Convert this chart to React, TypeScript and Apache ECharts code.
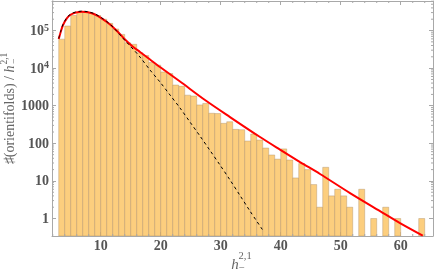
import React, { useEffect, useRef } from "react";
import * as echarts from "echarts";

// ---- data ----
const hValues = [3,4,5,6,7,8,9,10,11,12,13,14,15,16,17,18,19,20,21,22,23,24,25,26,27,28,29,30,31,32,33,34,35,36,37,38,39,40,41,42,43,44,45,46,47,48,49,50,51,52,53,54,55,56,57,58,59,60,61,62,63];
const counts = [59000,132000,251000,302000,309000,288000,251000,200000,155000,110000,79000,47000,43000,25700,21600,14100,12000,7900,7200,3550,3280,1910,1810,1050,1150,630,620,340,375,235,230,115,177,122,75,49,38,71,36,12,29,20,8,2,23,4,6,4,2,0,6,0,1,0,2,0,1,0,0,0,1];

const fitSolidH = [3.0,3.38,3.72,4.38,5.05,5.88,6.88,7.88,9.05,10.22,11.55,12.88,14.05,15.22,16.55,18.22,19.88,23.22,27.38,31.55,36.55,39.88,43.22,46.55,51.55,56.55,59.88,63.67];
const fitSolidV = [59400,97000,140000,215000,267000,301000,316000,305000,267000,208000,145000,91000,57500,38700,26800,16900,10700,4400,1420,500,147,68,31.8,15.3,4.76,1.58,0.76,0.353];

const fitDashedH = [3.0,3.38,3.72,4.38,5.05,5.88,6.88,7.88,9.05,10.22,11.55,12.88,14.05,15.38,16.55,18.22,19.88,21.55,23.22,24.88,26.55,28.22,29.88,31.55,33.22,34.88,37.22];
const fitDashedV = [62000,101000,146000,224000,278000,313000,328000,316000,276000,214000,148000,88500,54200,32200,19700,8900,4270,1930,869,368,156,64.4,26.5,10.6,4.09,1.58,0.438];

const xMinorTicks = [2,4,6,8,12,14,16,18,22,24,26,28,32,34,36,38,42,44,46,48,52,54,56,58,62,64];
const yMinorTicks = [2,3,4,5,6,7,8,9,20,30,40,50,60,70,80,90,200,300,400,500,600,700,800,900,2000,3000,4000,5000,6000,7000,8000,9000,20000,30000,40000,50000,60000,70000,80000,90000,200000,300000,400000,500000,600000];

const X_MIN = 1.88;
const X_MAX = 65.38;
const Y_MIN = 0.343;
const Y_MAX = 610000;

const SERIF = "'Liberation Serif', 'DejaVu Serif', serif";
const FRAME = "#a8a8a8";
const LABEL = "#555555";
const TITLE = "#666666";
const BAR_FILL = "#FCCE7E";
const BAR_EDGE = "rgba(165,135,95,0.55)";

export default function App() {
  const ref = useRef<HTMLDivElement>(null);
  useEffect(() => {
    if (!ref.current) return;
    const chart = echarts.init(ref.current, undefined, { renderer: "svg" });

    const barData = hValues
      .map((h, i) => [h, counts[i]])
      .filter((d) => d[1] > 0);

    const axisCommonX = {
      type: "value" as const,
      min: X_MIN,
      max: X_MAX,
      splitLine: { show: false },
      axisLine: { show: true, onZero: false, lineStyle: { color: FRAME, width: 1 } },
      axisTick: { show: true, inside: true, length: 4, lineStyle: { color: FRAME, width: 1 } },
    };
    const axisCommonY = {
      type: "log" as const,
      logBase: 10,
      min: Y_MIN,
      max: Y_MAX,
      splitLine: { show: false },
      axisLine: { show: true, onZero: false, lineStyle: { color: FRAME, width: 1 } },
      axisTick: { show: true, inside: true, length: 4, lineStyle: { color: FRAME, width: 1 } },
    };

    chart.setOption({
      animation: false,
      grid: { left: 52, right: 3, top: 1, bottom: 38 },
      xAxis: [
        {
          ...axisCommonX,
          position: "bottom",
          axisLabel: {
            show: true,
            margin: 2,
            showMinLabel: false,
            showMaxLabel: false,
            fontFamily: SERIF,
            fontSize: 14,
            fontWeight: "bold",
            color: LABEL,
          },
        },
        { ...axisCommonX, position: "top", axisLabel: { show: false } },
      ],
      yAxis: [
        {
          ...axisCommonY,
          position: "left",
          axisLabel: {
            show: true,
            margin: 3,
            showMinLabel: false,
            showMaxLabel: false,
            formatter: (v: number) => {
              if (v >= 10000) {
                const e = Math.round(Math.log10(v));
                return `{b|10}{s|${e}}`;
              }
              return `{b|${Math.round(v)}}`;
            },
            rich: {
              b: { fontFamily: SERIF, fontSize: 14, fontWeight: "bold", color: LABEL },
              s: { fontFamily: SERIF, fontSize: 10, fontWeight: "bold", color: LABEL, padding: [0, 0, 7, 0] },
            },
          },
        },
        { ...axisCommonY, position: "right", axisLabel: { show: false } },
      ],
      graphic: [
        {
          type: "text",
          x: 9.5,
          y: 65.5,
          rotation: Math.PI / 2,
          style: {
            text: "♯(orientifolds) / {h|h}",
            rich: { h: { fontStyle: "italic", fontFamily: SERIF, fontSize: 14, fill: TITLE } },
            fontFamily: SERIF,
            fontSize: 14,
            fill: TITLE,
            align: "right",
            verticalAlign: "middle",
          },
        },
        {
          type: "text",
          x: 4,
          y: 64.5,
          rotation: Math.PI / 2,
          style: { text: "2,1", fontFamily: SERIF, fontSize: 9.5, fill: TITLE, align: "left", verticalAlign: "middle" },
        },
        {
          type: "text",
          x: 13.5,
          y: 64,
          rotation: Math.PI / 2,
          style: { text: "−", fontFamily: SERIF, fontSize: 9.5, fill: TITLE, align: "left", verticalAlign: "middle" },
        },
        {
          type: "text",
          x: 235,
          y: 264,
          style: { text: "h", fontFamily: SERIF, fontStyle: "italic", fontSize: 15, fill: TITLE, align: "center", verticalAlign: "middle" },
        },
        {
          type: "text",
          x: 238.5,
          y: 255.5,
          style: { text: "2,1", fontFamily: SERIF, fontSize: 10.5, fill: TITLE, align: "left", verticalAlign: "middle" },
        },
        {
          type: "text",
          x: 239,
          y: 267.5,
          style: { text: "−", fontFamily: SERIF, fontSize: 10.5, fill: TITLE, align: "left", verticalAlign: "middle" },
        },
      ],
      series: [
        {
          type: "custom",
          name: "histogram",
          coordinateSystem: "cartesian2d",
          clip: true,
          encode: { x: 0, y: 1 },
          data: barData,
          renderItem: (params: any, api: any) => {
            const k = api.value(0);
            const v = api.value(1);
            if (!(v > 0)) return null;
            const tl = api.coord([k, v]);
            const br = api.coord([k + 1, Y_MIN]);
            return {
              type: "rect",
              shape: { x: tl[0], y: tl[1], width: br[0] - tl[0], height: br[1] - tl[1] },
              style: { fill: BAR_FILL, stroke: BAR_EDGE, lineWidth: 0.7 },
            };
          },
          z: 1,
        },
        {
          type: "line",
          name: "fit",
          data: fitSolidH.map((h, i) => [h, fitSolidV[i]]),
          showSymbol: false,
          symbol: "none",
          smooth: 0.3,
          lineStyle: { color: "#ff0000", width: 2 },
          z: 3,
        },
        {
          type: "line",
          name: "fit2",
          data: fitDashedH.map((h, i) => [h, fitDashedV[i]]),
          showSymbol: false,
          symbol: "none",
          smooth: 0.3,
          lineStyle: { color: "#000000", width: 1, type: [3, 3] },
          z: 4,
        },
        {
          type: "custom",
          name: "xminor",
          coordinateSystem: "cartesian2d",
          clip: false,
          encode: { x: 0, y: 1 },
          data: xMinorTicks.map((t) => [t, Y_MIN]),
          renderItem: (params: any, api: any) => {
            const t = api.value(0);
            const b = api.coord([t, Y_MIN]);
            const tp = api.coord([t, Y_MAX]);
            return {
              type: "group",
              children: [
                { type: "line", shape: { x1: b[0], y1: b[1], x2: b[0], y2: b[1] - 2 }, style: { stroke: FRAME, lineWidth: 1 } },
                { type: "line", shape: { x1: tp[0], y1: tp[1], x2: tp[0], y2: tp[1] + 2 }, style: { stroke: FRAME, lineWidth: 1 } },
              ],
            };
          },
          z: 5,
        },
        {
          type: "custom",
          name: "yminor",
          coordinateSystem: "cartesian2d",
          clip: false,
          encode: { x: 0, y: 1 },
          data: yMinorTicks.map((t) => [X_MIN, t]),
          renderItem: (params: any, api: any) => {
            const t = api.value(1);
            const l = api.coord([X_MIN, t]);
            const r = api.coord([X_MAX, t]);
            return {
              type: "group",
              children: [
                { type: "line", shape: { x1: l[0], y1: l[1], x2: l[0] + 2, y2: l[1] }, style: { stroke: FRAME, lineWidth: 1 } },
                { type: "line", shape: { x1: r[0], y1: r[1], x2: r[0] - 2, y2: r[1] }, style: { stroke: FRAME, lineWidth: 1 } },
              ],
            };
          },
          z: 5,
        },
      ],
    });
    return () => chart.dispose();
  }, []);
  return <div ref={ref} style={{ position: "fixed", left: 0, top: 0, width: 436, height: 274 }} />;
}
